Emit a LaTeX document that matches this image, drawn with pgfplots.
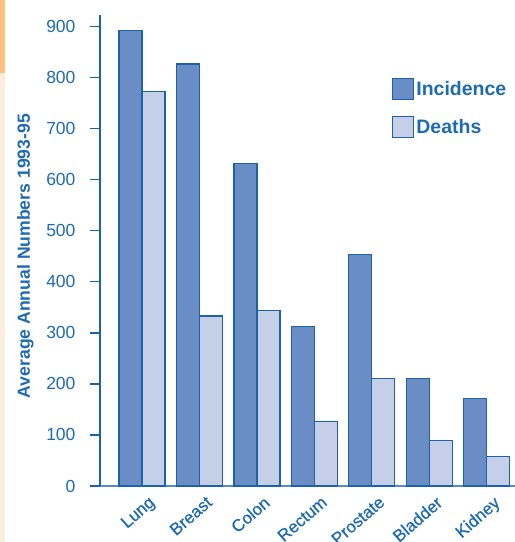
\documentclass[border=0pt]{standalone}
\usepackage{fontspec}
\setmainfont{Liberation Sans}
\newfontface\catfont{Liberation Sans}[FakeBold=0.7]
\usepackage{pgfplots}
\pgfplotsset{compat=1.18}

\definecolor{txtblue}{HTML}{1E6BB2}
\definecolor{edgeblue}{HTML}{1A63A8}
\definecolor{incfill}{HTML}{6A8DC6}
\definecolor{deafill}{HTML}{C5CFE7}
\definecolor{baseblue}{HTML}{5A8CC4}
\definecolor{stripA}{HTML}{FFC080}
\definecolor{stripB}{HTML}{FCEEDC}

\begin{document}
\begin{tikzpicture}
\path[use as bounding box, clip] (0,0) rectangle (515pt,542pt);
% decorative strip on the left edge
\fill[stripB] (0,0) rectangle (5pt,469pt);
\fill[stripA] (0,469pt) rectangle (5pt,542pt);
\begin{axis}[
  at={(100pt,56pt)}, anchor=south west,
  scale only axis, width=415pt, height=471pt,
  ybar=0pt, bar width=23pt,
  xmin=-0.73, xmax=6.49, ymin=0, ymax=923,
  axis x line*=bottom, axis y line*=left,
  x axis line style={draw=baseblue, line width=1.8pt},
  y axis line style={draw=edgeblue, line width=1.4pt},
  xtick={0,...,6},
  xticklabels={Lung,Breast,Colon,Rectum,Prostate,Bladder,Kidney},
  x tick style={draw=none},
  ytick={0,100,...,900},
  y tick style={draw=edgeblue, line width=1.2pt},
  tick align=outside, major tick length=10pt,
  /pgf/number format/assume math mode=true,
  yticklabel style={font=\fontsize{17.5}{20}\selectfont, text=txtblue, xshift=-11pt},
  xticklabel style={font=\catfont\fontsize{17}{20}\selectfont, text=txtblue,
    xshift=6pt, yshift=1pt, rotate=41, anchor=north east, inner sep=0pt},
  ylabel={Average Annual Numbers 1993-95},
  every axis y label/.style={at={(axis description cs:-0.180,0.488)}, rotate=90,
    anchor=center, font=\fontsize{17.6}{20}\selectfont\bfseries, text=txtblue},
  legend style={at={(axis description cs:0.704,0.866)}, anchor=north west,
    draw=none, fill=none, inner sep=0pt, row sep=16pt,
    font=\fontsize{19.5}{22}\selectfont\bfseries, text=txtblue,
    cells={anchor=west}},
  legend image code/.code={\draw[#1, line width=1pt] (0pt,-10.5pt) rectangle (21pt,10.5pt);},
]
\addplot[fill=incfill, draw=edgeblue, line width=1.2pt] coordinates
  {(0,893) (1,827) (2,632) (3,312) (4,454) (5,210) (6,171)};
\addplot[fill=deafill, draw=edgeblue, line width=1.2pt] coordinates
  {(0,773) (1,333) (2,344) (3,126) (4,210) (5,89) (6,58)};
\legend{Incidence, Deaths}
\end{axis}
\end{tikzpicture}
\end{document}
